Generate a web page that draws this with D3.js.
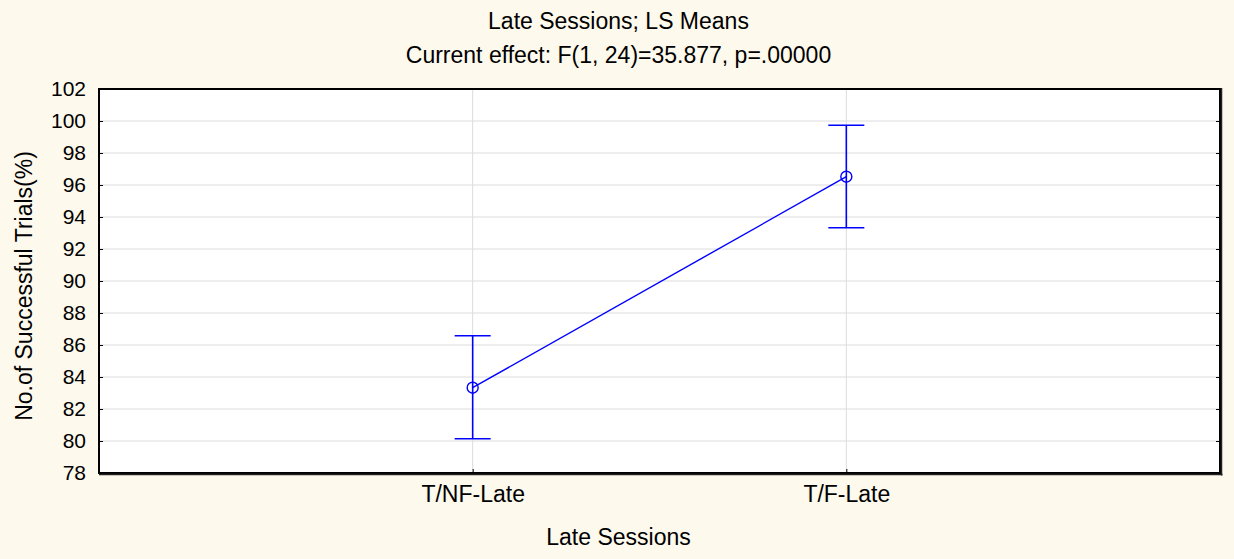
<!DOCTYPE html>
<html>
<head>
<meta charset="utf-8">
<script src="https://cdnjs.cloudflare.com/ajax/libs/d3/7.8.5/d3.min.js"></script>
<style>
  html, body { margin: 0; padding: 0; background: #fef9ed; }
  svg { display: block; font-family: "Liberation Sans", Arial, sans-serif; }
</style>
</head>
<body>
<svg id="chart" width="1234" height="559"></svg>
<script>
// chart data
var categories = ['T/NF-Late', 'T/F-Late'];
var means = [83.33, 96.52];
var upper = [86.58, 99.73];
var lower = [80.14, 93.33];
var yTicks = [78, 80, 82, 84, 86, 88, 90, 92, 94, 96, 98, 100, 102];
var titleLines = ['Late Sessions; LS Means', 'Current effect: F(1, 24)=35.877, p=.00000'];

var W = 1234, H = 559;
var m = {left: 99, right: 14, top: 89, bottom: 86};
var pw = W - m.left - m.right, ph = H - m.top - m.bottom;
var font = '"Liberation Sans", Arial, sans-serif';
var bigFont = 23, tickFont = 21;

var svg = d3.select('#chart');

var x = d3.scalePoint().domain(categories).range([0, pw]).padding(1);
var y = d3.scaleLinear().domain([78, 102]).range([ph, 0]);

// titles
svg.selectAll('text.title').data(titleLines).enter().append('text')
	.attr('class', 'title')
	.attr('x', m.left + pw / 2 - 41)
	.attr('y', function(d, i){ return 29 + i * 34; })
	.attr('text-anchor', 'middle')
	.attr('font-size', bigFont)
	.attr('fill', '#000')
	.text(function(d){ return d; });

var g = svg.append('g').attr('transform', 'translate(' + m.left + ',' + m.top + ')');

// plot background
g.append('rect').attr('width', pw).attr('height', ph).attr('fill', '#fff');

// grid
g.selectAll('line.hgrid').data(yTicks.slice(1, -1)).enter().append('line')
	.attr('x1', 0).attr('x2', pw)
	.attr('y1', function(d){ return y(d); }).attr('y2', function(d){ return y(d); })
	.attr('stroke', '#dcdcdc').attr('stroke-width', 1);
g.selectAll('line.vgrid').data(categories).enter().append('line')
	.attr('y1', 0).attr('y2', ph)
	.attr('x1', function(d){ return x(d); }).attr('x2', function(d){ return x(d); })
	.attr('stroke', '#dcdcdc').attr('stroke-width', 1);

// y axis (left) with inward ticks
var yAxis = d3.axisLeft(y).tickValues(yTicks).tickSize(-4).tickPadding(13).tickFormat(d3.format('d'));
var ya = g.append('g').call(yAxis);
ya.select('.domain').remove();
ya.selectAll('text').attr('font-size', tickFont).attr('fill', '#000').attr('font-family', font);
ya.selectAll('line').attr('stroke', '#000');

// right ticks
g.append('g').attr('transform', 'translate(' + pw + ',0)')
	.call(d3.axisRight(y).tickValues(yTicks).tickSize(-4).tickFormat(''))
	.call(function(s){ s.select('.domain').remove(); s.selectAll('line').attr('stroke', '#000'); });

// x axis labels
var xa = g.append('g').attr('transform', 'translate(0,' + ph + ')')
	.call(d3.axisBottom(x).tickSize(-4).tickPadding(13));
xa.select('.domain').remove();
xa.selectAll('text').attr('font-size', bigFont).attr('fill', '#000').attr('font-family', font);
xa.selectAll('line').attr('stroke', '#000');

// frame
g.append('rect').attr('x', 0).attr('y', 0).attr('width', pw).attr('height', ph)
	.attr('fill', 'none').attr('stroke', '#000').attr('stroke-width', 2);
g.append('line').attr('x1', pw + 1.5).attr('x2', pw + 1.5).attr('y1', -1).attr('y2', ph + 2.5)
	.attr('stroke', '#222').attr('stroke-width', 1.5);
g.append('line').attr('x1', 0).attr('x2', pw + 2.5).attr('y1', ph + 1.5).attr('y2', ph + 1.5)
	.attr('stroke', '#222').attr('stroke-width', 1.5);

var blue = '#0000ff';

// error bars
var pts = categories.map(function(c, i){ return {c: c, m: means[i], hi: upper[i], lo: lower[i]}; });
var eb = g.selectAll('g.eb').data(pts).enter().append('g').attr('class', 'eb');
eb.append('line')
	.attr('x1', function(d){ return x(d.c); }).attr('x2', function(d){ return x(d.c); })
	.attr('y1', function(d){ return y(d.hi); }).attr('y2', function(d){ return y(d.lo); })
	.attr('stroke', blue).attr('stroke-width', 1.6);
['hi', 'lo'].forEach(function(k){
	eb.append('line')
		.attr('x1', function(d){ return x(d.c) - 18; }).attr('x2', function(d){ return x(d.c) + 18; })
		.attr('y1', function(d){ return y(d[k]); }).attr('y2', function(d){ return y(d[k]); })
		.attr('stroke', blue).attr('stroke-width', 1.6);
});

// mean line
g.append('path').datum(pts)
	.attr('d', d3.line().x(function(d){ return x(d.c); }).y(function(d){ return y(d.m); }))
	.attr('fill', 'none').attr('stroke', blue).attr('stroke-width', 1.4);

// markers
g.selectAll('circle.pt').data(pts).enter().append('circle')
	.attr('cx', function(d){ return x(d.c); }).attr('cy', function(d){ return y(d.m); })
	.attr('r', 5.5).attr('fill', 'none').attr('stroke', blue).attr('stroke-width', 1.4);

// axis titles
svg.append('text').attr('x', m.left + pw / 2 - 41).attr('y', 545)
	.attr('text-anchor', 'middle').attr('font-size', bigFont).text('Late Sessions');
svg.append('text').attr('transform', 'translate(32,286) rotate(-90)')
	.attr('text-anchor', 'middle').attr('font-size', bigFont).text('No.of Successful Trials(%)');
</script>
</body>
</html>
